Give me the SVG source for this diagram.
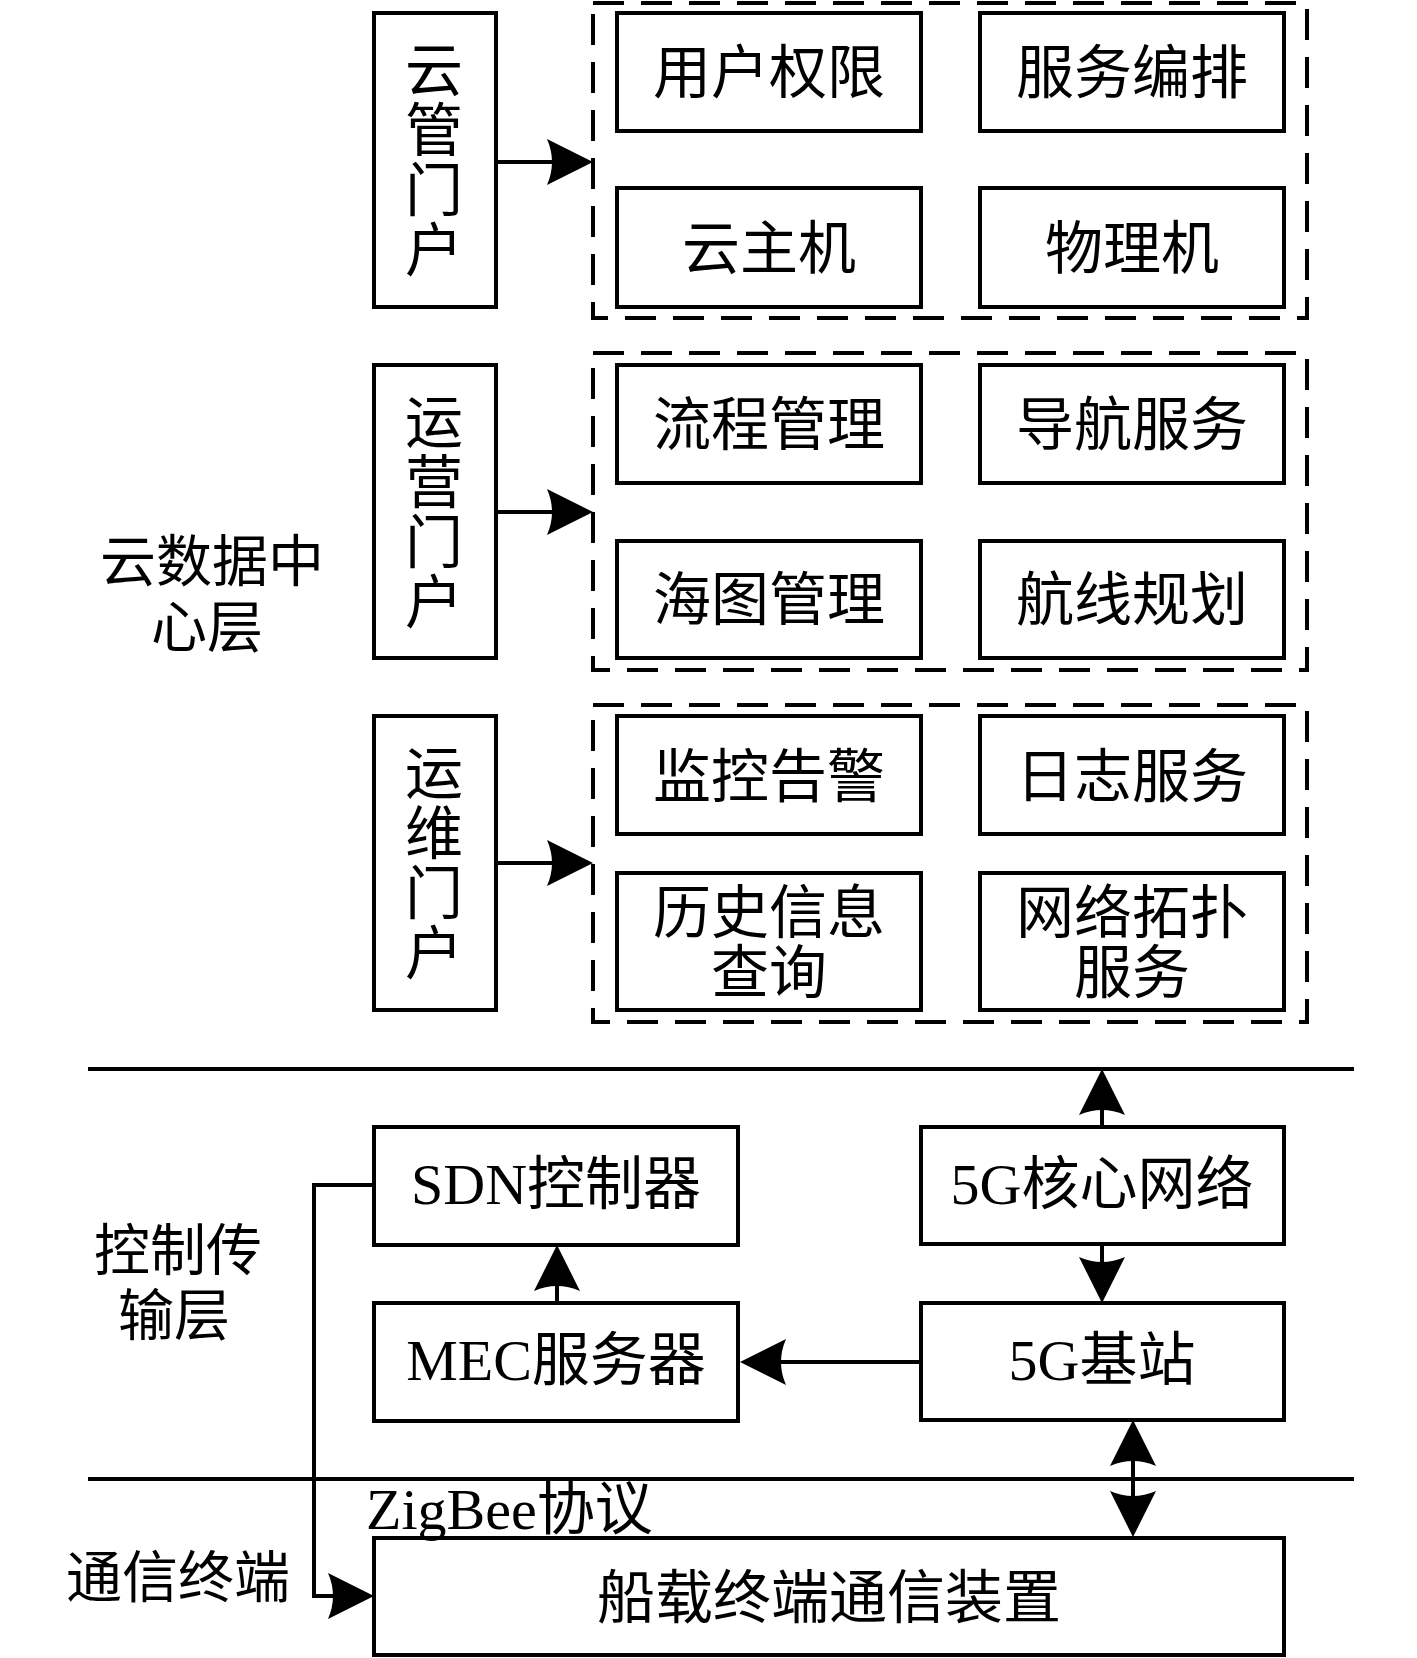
<svg xmlns="http://www.w3.org/2000/svg" width="1417" height="1658" viewBox="0 0 1417 1658">
<style>
.box{fill:#fff;stroke:#000;stroke-width:4}
.dash{fill:none;stroke:#000;stroke-width:4;stroke-dasharray:31 17}
.t{font-family:"Liberation Serif","Noto Sans CJK SC",serif;font-size:58px;fill:#000;text-anchor:middle}
.lbl{font-family:"Liberation Serif","Noto Sans CJK SC",serif;font-size:56px;fill:#000;text-anchor:middle}
.ln{fill:none;stroke:#000;stroke-width:4}
.c{fill:none;stroke:#000;stroke-width:4;marker-end:url(#ah)}
</style>
<defs>
<marker id="ah" viewBox="-48 -26 50 52" refX="-30" refY="0" markerWidth="50" markerHeight="52" markerUnits="userSpaceOnUse" orient="auto-start-reverse">
<path d="M0,0 L-46,-23 Q-36,0 -46,23 Z" fill="#000"/>
</marker>
</defs>
<rect width="1417" height="1658" fill="#fff"/>

<g id="layer-labels">
<text class="lbl" x="212" y="581">云数据中</text>
<text class="lbl" x="207" y="647">心层</text>
<text class="lbl" x="178" y="1270">控制传</text>
<text class="lbl" x="174" y="1335">输层</text>
<text class="lbl" x="178" y="1597">通信终端</text>
</g>

<g id="layer-lines">
<line class="ln" x1="88" y1="1069" x2="1354" y2="1069"/>
<line class="ln" x1="88" y1="1479" x2="1354" y2="1479"/>
</g>

<g id="group-cloud">
<rect class="dash" x="593" y="3" width="714" height="315"/>
</g>
<g id="group-ops">
<rect class="dash" x="593" y="353" width="714" height="317"/>
</g>
<g id="group-maint">
<rect class="dash" x="593" y="705" width="714" height="317"/>
</g>

<g id="portal-cloud">
<rect class="box" x="374" y="13" width="122" height="294"/>
<text class="t" x="434" y="91">云</text>
<text class="t" x="434" y="151">管</text>
<text class="t" x="434" y="211">门</text>
<text class="t" x="434" y="271">户</text>
</g>
<g id="portal-ops">
<rect class="box" x="374" y="365" width="122" height="293"/>
<text class="t" x="434" y="443">运</text>
<text class="t" x="434" y="503">营</text>
<text class="t" x="434" y="563">门</text>
<text class="t" x="434" y="623">户</text>
</g>
<g id="portal-maint">
<rect class="box" x="374" y="716" width="122" height="294"/>
<text class="t" x="434" y="794">运</text>
<text class="t" x="434" y="854">维</text>
<text class="t" x="434" y="914">门</text>
<text class="t" x="434" y="974">户</text>
</g>

<g id="n-user-perm"><rect class="box" x="617" y="13" width="304" height="118"/><text class="t" x="769" y="93">用户权限</text></g>
<g id="n-service-orch"><rect class="box" x="980" y="13" width="304" height="118"/><text class="t" x="1132" y="93">服务编排</text></g>
<g id="n-cloud-host"><rect class="box" x="617" y="188" width="304" height="119"/><text class="t" x="769" y="269">云主机</text></g>
<g id="n-physical"><rect class="box" x="980" y="188" width="304" height="119"/><text class="t" x="1132" y="269">物理机</text></g>

<g id="n-process"><rect class="box" x="617" y="365" width="304" height="118"/><text class="t" x="769" y="445">流程管理</text></g>
<g id="n-nav"><rect class="box" x="980" y="365" width="304" height="118"/><text class="t" x="1132" y="445">导航服务</text></g>
<g id="n-chart"><rect class="box" x="617" y="541" width="304" height="117"/><text class="t" x="769" y="620">海图管理</text></g>
<g id="n-route"><rect class="box" x="980" y="541" width="304" height="117"/><text class="t" x="1132" y="620">航线规划</text></g>

<g id="n-monitor"><rect class="box" x="617" y="716" width="304" height="118"/><text class="t" x="769" y="797">监控告警</text></g>
<g id="n-log"><rect class="box" x="980" y="716" width="304" height="118"/><text class="t" x="1132" y="797">日志服务</text></g>
<g id="n-history"><rect class="box" x="617" y="873" width="304" height="137"/><text class="t" x="769" y="933">历史信息</text><text class="t" x="769" y="993">查询</text></g>
<g id="n-topo"><rect class="box" x="980" y="873" width="304" height="137"/><text class="t" x="1132" y="933">网络拓扑</text><text class="t" x="1132" y="993">服务</text></g>

<g id="n-sdn"><rect class="box" x="374" y="1127" width="364" height="118"/><text class="t" x="556" y="1204">SDN控制器</text></g>
<g id="n-5gcore"><rect class="box" x="921" y="1127" width="363" height="117"/><text class="t" x="1102" y="1204">5G核心网络</text></g>
<g id="n-mec"><rect class="box" x="374" y="1303" width="364" height="118"/><text class="t" x="556" y="1380">MEC服务器</text></g>
<g id="n-5gbs"><rect class="box" x="921" y="1303" width="363" height="117"/><text class="t" x="1102" y="1380">5G基站</text></g>
<g id="n-ship"><rect class="box" x="374" y="1538" width="910" height="117"/><text class="t" x="829" y="1618">船载终端通信装置</text></g>

<g id="zigbee-label">
<text class="t" x="366" y="1529" style="text-anchor:start">ZigBee协议</text>
</g>

<g id="connectors">
<path class="c" d="M496,162 H563"/>
<path class="c" d="M496,512 H563"/>
<path class="c" d="M496,863 H563"/>
<path class="c" d="M1102,1127 V1099"/>
<path class="c" d="M1102,1244 V1273"/>
<path class="c" d="M921,1362 H770"/>
<path class="c" d="M557,1303 V1275"/>
<path class="c" d="M1133,1450 V1507" style="marker-start:url(#ah)"/>
<path class="c" d="M374,1185 H314 V1596 H344"/>
</g>
</svg>
